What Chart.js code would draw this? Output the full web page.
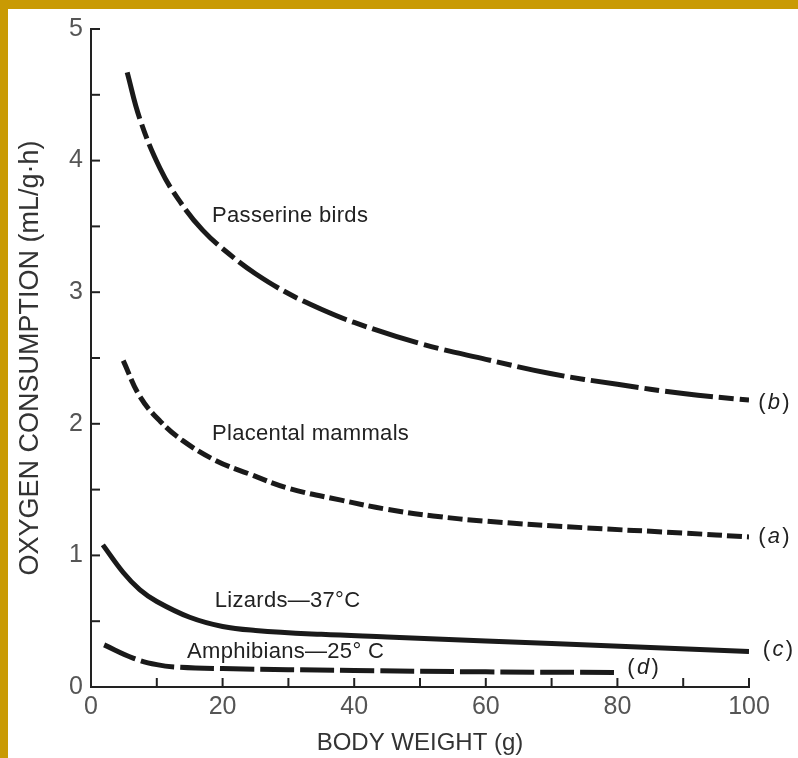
<!DOCTYPE html>
<html><head><meta charset="utf-8">
<script src="https://cdn.jsdelivr.net/npm/chart.js@4.4.0/dist/chart.umd.min.js"></script>
<style>
html,body{margin:0;padding:0;background:#fff;}
#wrap{position:relative;width:798px;height:758px;overflow:hidden;background:#fff;}
#c{position:absolute;left:0;top:0;}
.bt{position:absolute;left:0;top:0;width:798px;height:9px;background:#C99A04;}
.bl{position:absolute;left:0;top:0;width:8px;height:758px;background:#C99A04;}
</style></head><body>
<div id="wrap"><canvas id="c" width="798" height="758"></canvas><div class="bt"></div><div class="bl"></div></div>
<script>
// ---- data ----
const passerineX = [5.5, 7.4, 10.5, 13.5, 17, 21, 25, 30, 35, 40, 50, 60, 70, 80, 90, 100];
const passerineY = [4.67, 4.32, 3.94, 3.69, 3.47, 3.29, 3.14, 2.99, 2.87, 2.77, 2.61, 2.49, 2.38, 2.30, 2.23, 2.18];
const mammalsX = [4.9, 7.4, 10.5, 14, 19, 24, 30, 38, 45, 52, 60, 75, 90, 100];
const mammalsY = [2.48, 2.21, 2.02, 1.87, 1.72, 1.62, 1.51, 1.42, 1.35, 1.30, 1.26, 1.21, 1.17, 1.14];
const lizardsX = [1.8, 4.9, 7.4, 10, 15, 20, 25, 35, 45, 60, 70, 85, 100];
const lizardsY = [1.08, 0.87, 0.74, 0.65, 0.53, 0.46, 0.43, 0.40, 0.38, 0.35, 0.33, 0.30, 0.27];
const amphibiansX = [2, 6.4, 10, 13.5, 20, 40, 60, 80];
const amphibiansY = [0.32, 0.22, 0.17, 0.15, 0.14, 0.125, 0.115, 0.11];
const xTickLabels = [0, 20, 40, 60, 80, 100];
const yTickLabels = [0, 1, 2, 3, 4, 5];
const seriesNames = ['Passerine birds', 'Placental mammals', 'Lizards—37°C', 'Amphibians—25° C'];
const endTags = ['b', 'a', 'c', 'd'];

const toPts = (xs, ys) => xs.map((x, i) => ({x: x, y: ys[i]}));

// annotation anchors (data coordinates)
const nameAnchors = [[18.4, 3.53], [18.4, 1.88], [18.8, 0.61], [14.6, 0.22]];
const tagAnchors = [[101.4, 2.16], [101.4, 1.14], [102.1, 0.28], [81.5, 0.145]];

const ink = '#1a1a1a';
const annot = {
  id: 'annot',
  afterDatasetsDraw(chart) {
    const ctx = chart.ctx, xs = chart.scales.x, ys = chart.scales.y;
    const L = chart.chartArea.left, B = chart.chartArea.bottom;
    ctx.save();
    ctx.strokeStyle = '#222'; ctx.lineWidth = 2;
    ys.ticks.forEach(t => { const p = ys.getPixelForValue(t.value); ctx.beginPath(); ctx.moveTo(L, p); ctx.lineTo(L + 9, p); ctx.stroke(); });
    xs.ticks.forEach(t => { const p = xs.getPixelForValue(t.value); ctx.beginPath(); ctx.moveTo(p, B); ctx.lineTo(p, B - 9); ctx.stroke(); });
    ctx.fillStyle = '#222';
    ctx.textBaseline = 'alphabetic';
    ctx.textAlign = 'left';
    try { ctx.letterSpacing = '0.3px'; } catch(e) {}
    ctx.font = '22px "Liberation Sans", Arial, sans-serif';
    seriesNames.forEach((n, i) => {
      ctx.fillText(n, xs.getPixelForValue(nameAnchors[i][0]), ys.getPixelForValue(nameAnchors[i][1]));
    });
    ctx.textBaseline = 'middle';
    endTags.forEach((tg, i) => {
      let px = xs.getPixelForValue(tagAnchors[i][0]);
      const py = ys.getPixelForValue(tagAnchors[i][1]);
      ctx.font = '22px "Liberation Sans", Arial, sans-serif';
      ctx.fillText('(', px, py); px += ctx.measureText('(').width + 2;
      ctx.font = 'italic 22px "Liberation Sans", Arial, sans-serif';
      ctx.fillText(tg, px, py); px += ctx.measureText(tg).width + 2;
      ctx.font = '22px "Liberation Sans", Arial, sans-serif';
      ctx.fillText(')', px, py);
    });
    ctx.restore();
  }
};

const mk = (label, pts, dash) => ({
  label: label, data: pts, borderColor: ink, borderWidth: 5, borderDash: dash,
  borderCapStyle: 'butt', pointRadius: 0, fill: false, tension: 0.4
});

new Chart(document.getElementById('c'), {
  type: 'line',
  data: {
    datasets: [
      mk(seriesNames[0], toPts(passerineX, passerineY), [48, 6, 15, 6]),
      mk(seriesNames[1], toPts(mammalsX, mammalsY), [15, 5]),
      mk(seriesNames[2], toPts(lizardsX, lizardsY), []),
      mk(seriesNames[3], toPts(amphibiansX, amphibiansY), [34, 6])
    ]
  },
  options: {
    responsive: false, animation: false, devicePixelRatio: 1,
    layout: {padding: {top: 29, right: 49, left: 0, bottom: 0}},
    plugins: {legend: {display: false}, tooltip: {enabled: false}},
    scales: {
      x: {
        type: 'linear', min: 0, max: 100,
        afterFit: s => { s.height = 71; },
        grid: {display: false, drawTicks: false},
        border: {display: true, color: '#222', width: 2},
        ticks: {stepSize: 10, padding: 5, color: '#555', maxRotation: 0, autoSkip: false,
          font: {family: '"Liberation Sans", Arial', size: 25},
          callback: v => xTickLabels.includes(v) ? String(v) : ''},
        title: {display: true, text: 'BODY WEIGHT (g)', color: '#333', padding: {top: 0, bottom: 0},
          font: {family: '"Liberation Sans", Arial', size: 24}}
      },
      y: {
        type: 'linear', min: 0, max: 5,
        afterFit: s => { s.width = 91; },
        grid: {display: false, drawTicks: false},
        border: {display: true, color: '#222', width: 2},
        ticks: {stepSize: 0.5, padding: 8, color: '#555', autoSkip: false,
          font: {family: '"Liberation Sans", Arial', size: 25},
          callback: v => yTickLabels.includes(v) ? String(v) : ''},
        title: {display: true, text: 'OXYGEN CONSUMPTION (mL/g·h)', color: '#333', padding: {top: 14, bottom: 0},
          font: {family: '"Liberation Sans", Arial', size: 27}}
      }
    }
  },
  plugins: [annot]
});
</script>
</body></html>
